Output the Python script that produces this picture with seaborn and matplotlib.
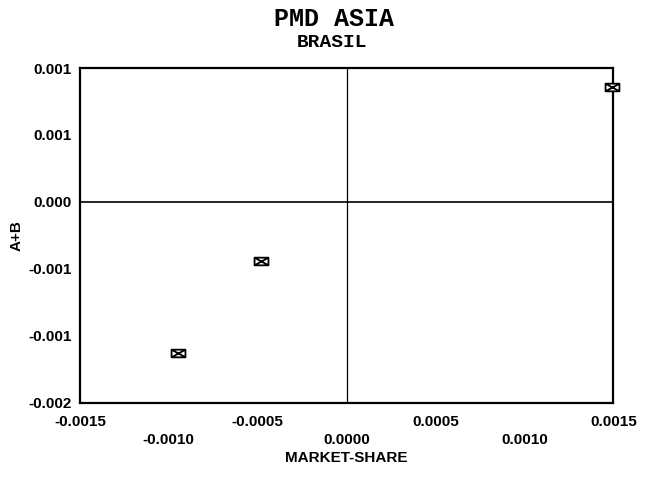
import numpy as np
import pandas as pd
import matplotlib
matplotlib.use("Agg")
import matplotlib.pyplot as plt
from matplotlib.path import Path
import seaborn as sns

# values
market_share = [-0.00095, -0.00048, 0.00149]
a_plus_b = [-0.00113, -0.00044, 0.00086]

x_ticks = [-0.0015, -0.0010, -0.0005, 0.0000, 0.0005, 0.0010, 0.0015]
x_labels = ["-0.0015", "\n-0.0010", "-0.0005", "\n0.0000", "0.0005", "\n0.0010", "0.0015"]
y_ticks = [-0.0015, -0.0010, -0.0005, 0.0000, 0.0005, 0.0010]
y_labels = ["-0.002", "-0.001", "-0.001", "0.000", "0.001", "0.001"]

data = pd.DataFrame({"MARKET-SHARE": market_share, "A+B": a_plus_b})

sns.set_style("white")
plt.rcParams["font.family"] = ["Liberation Sans", "DejaVu Sans"]
plt.rcParams.update({"text.color": "black", "axes.labelcolor": "black",
                     "xtick.color": "black", "ytick.color": "black"})

# boxed-x marker, wider than tall
box_x = Path(
    [(-1, -0.55), (1, -0.55), (1, 0.55), (-1, 0.55), (-1, -0.55),
     (-1, -0.55), (1, 0.55), (1, -0.55), (-1, 0.55)],
    [Path.MOVETO, Path.LINETO, Path.LINETO, Path.LINETO, Path.CLOSEPOLY,
     Path.MOVETO, Path.LINETO, Path.MOVETO, Path.LINETO],
)

fig = plt.figure(figsize=(6.49, 4.79), dpi=100)
ax = fig.add_axes([0.123, 0.159, 0.822, 0.699])

ax.axhline(0, color="black", lw=1.2, zorder=1)
ax.axvline(0, color="black", lw=0.9, zorder=1)

sns.scatterplot(data=data, x="MARKET-SHARE", y="A+B", ax=ax,
                marker=box_x, s=100, facecolor="white", edgecolor="black",
                linewidth=1.3, zorder=3, clip_on=False)

ax.set_xlim(-0.0015, 0.0015)
ax.set_ylim(-0.0015, 0.0010)
ax.set_xticks(x_ticks)
ax.set_xticklabels(x_labels, fontsize=11, fontweight="bold", linespacing=1.3)
ax.set_yticks(y_ticks)
ax.set_yticklabels(y_labels, fontsize=11, fontweight="bold")
ax.tick_params(axis="x", direction="in", length=5, width=1.2, pad=9)
ax.tick_params(axis="y", direction="out", length=5, width=1.2, pad=1)

for s in ax.spines.values():
    s.set_color("black")
    s.set_linewidth(1.6)

ax.set_xlabel("MARKET-SHARE", fontsize=11, fontweight="bold", labelpad=3)
ax.set_ylabel("A+B", fontsize=11, fontweight="bold", labelpad=3)

fig.text(0.514, 0.946, "PMD ASIA", ha="center", va="baseline", fontsize=18,
         fontweight="bold", family=["Liberation Mono", "DejaVu Sans Mono"])
fig.text(0.512, 0.902, "BRASIL", ha="center", va="baseline", fontsize=14,
         fontweight="bold", family=["Liberation Mono", "DejaVu Sans Mono"])

fig.savefig("out.png", dpi=100)
